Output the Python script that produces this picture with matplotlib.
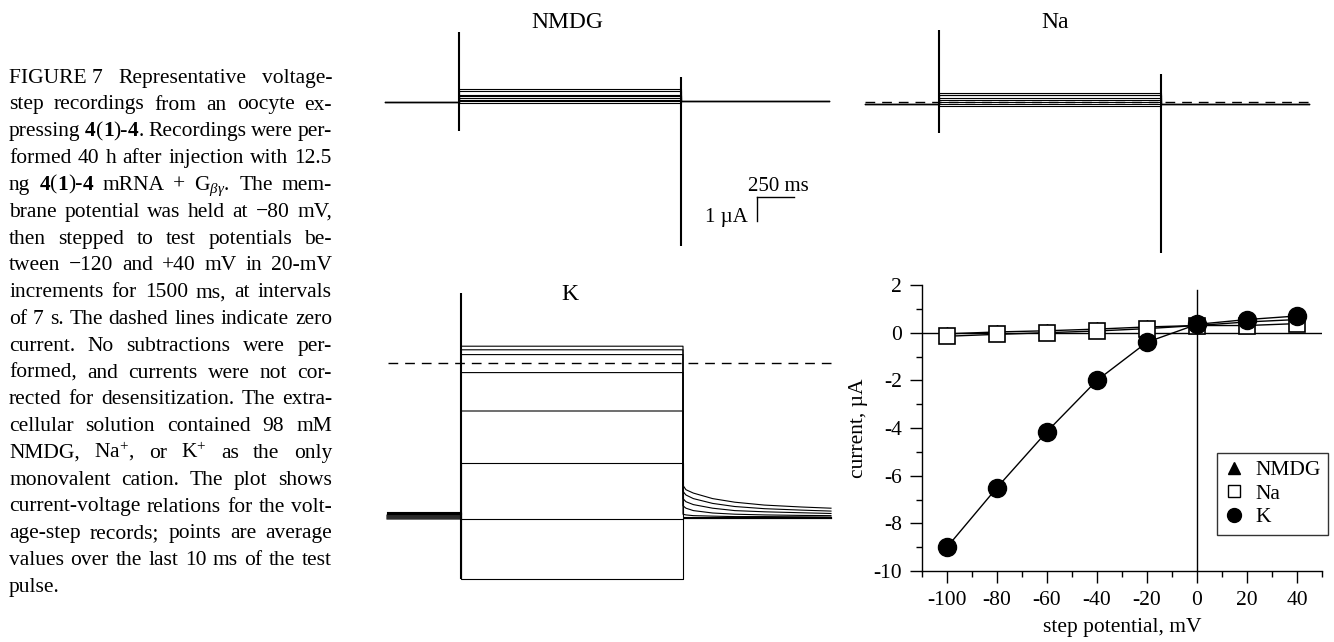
import numpy as np
import matplotlib
matplotlib.use('Agg')
import matplotlib.pyplot as plt
from matplotlib.lines import Line2D

plt.rcParams['font.family'] = ['Liberation Serif', 'DejaVu Serif']
plt.rcParams['mathtext.fontset'] = 'custom'
plt.rcParams['mathtext.rm'] = 'Liberation Serif'
plt.rcParams['mathtext.it'] = 'Liberation Serif:italic'
plt.rcParams['mathtext.bf'] = 'Liberation Serif:bold'
plt.rcParams['axes.unicode_minus'] = False

# step potentials (mV) and end-of-step currents (uA)
step_mv = [-100, -80, -60, -40, -20, 0, 20, 40]
i_nmdg = [-0.05, 0.03, 0.08, 0.15, 0.24, 0.30, 0.45, 0.55]
i_na = [-0.15, -0.07, 0.0, 0.07, 0.17, 0.30, 0.30, 0.38]
i_k = [-9.0, -6.5, -4.15, -2.0, -0.4, 0.35, 0.55, 0.7]

# holding currents at -80 mV (uA)
hold_nmdg = [0.0] * 8
hold_na = [-0.08] * 8
hold_k = [-6.22, -6.26, -6.30, -6.34, -6.38, -6.42, -6.46, -6.50]

# capacitive transients (low, high) in uA
spike_on_nmdg = (-1.2, 2.9)
spike_off_nmdg = (-6.0, 1.05)
spike_on_na = (-1.3, 3.0)
spike_off_na = (-6.3, 1.15)
spike_on_k = (-9.0, 2.9)

# K tail currents after the step (ms, uA)
tail_t = [1500, 1520, 1570, 1700, 1850, 2050, 2300, 2500]
tail_k = [
    [-6.45, -6.45, -6.45, -6.45, -6.45, -6.45, -6.45, -6.45],
    [-6.44, -6.44, -6.44, -6.44, -6.44, -6.44, -6.44, -6.44],
    [-6.42, -6.42, -6.42, -6.42, -6.42, -6.42, -6.42, -6.42],
    [-6.30, -6.33, -6.36, -6.38, -6.40, -6.40, -6.41, -6.42],
    [-5.95, -6.05, -6.15, -6.25, -6.30, -6.33, -6.35, -6.36],
    [-5.65, -5.78, -5.90, -6.05, -6.15, -6.20, -6.24, -6.27],
    [-5.35, -5.50, -5.65, -5.85, -5.98, -6.07, -6.13, -6.17],
    [-5.10, -5.28, -5.42, -5.65, -5.80, -5.92, -6.00, -6.05],
]

T_START, T_PULSE, T_END = -500, 1500, 2500
scale_ms, scale_ua = 250, 1

caption = [
    "FIGURE~7 Representative voltage-",
    "step recordings from an oocyte ex-",
    "pressing **4**(**1**)-**4**. Recordings were per-",
    "formed 40 h after injection with 12.5",
    "ng **4**(**1**)-**4** mRNA + G$_{\\beta\\gamma}$. The mem-",
    "brane potential was held at \u221280 mV,",
    "then stepped to test potentials be-",
    "tween \u2212120 and +40 mV in 20-mV",
    "increments for 1500 ms, at intervals",
    "of 7 s. The dashed lines indicate zero",
    "current. No subtractions were per-",
    "formed, and currents were not cor-",
    "rected for desensitization. The extra-",
    "cellular solution contained 98 mM",
    "NMDG, Na$^{+}$, or K$^{+}$ as the only",
    "monovalent cation. The plot shows",
    "current-voltage relations for the volt-",
    "age-step records; points are average",
    "values over the last 10 ms of the test",
    "pulse.",
]

W, H = 1334, 642
PX_MS = 222 / 1500
PX_UA = 24

fig = plt.figure(figsize=(W / 100, H / 100), dpi=100)


def px_axes(x0, y0, x1, y1):
    return fig.add_axes([x0 / W, 1 - y1 / H, (x1 - x0) / W, (y1 - y0) / H])


def trace_axes(x0, y0, x1, y1, pulse_px, zero_px):
    ax = px_axes(x0, y0, x1, y1)
    ax.set_xlim((x0 - pulse_px) / PX_MS, (x1 - pulse_px) / PX_MS)
    ax.set_ylim((zero_px - y1) / PX_UA, (zero_px - y0) / PX_UA)
    ax.axis('off')
    return ax


def draw_sweeps(ax, hold, steps, tt, tails):
    for h, s, tl in zip(hold, steps, tails):
        t = [T_START, 0, 0, T_PULSE, T_PULSE] + tt[1:]
        y = [h, h, s, s] + tl
        ax.plot(t, y, color='k', lw=0.8)


def ftext(x, y, s, **kw):
    fig.text(x / W, 1 - y / H, s, **kw)


# NMDG traces
ax1 = trace_axes(370, 10, 840, 270, 459, 102)
draw_sweeps(ax1, hold_nmdg, i_nmdg, [T_PULSE, T_END], [[h + 0.04, h + 0.04] for h in hold_nmdg])
ax1.vlines(0, *spike_on_nmdg, color='k', lw=1.5)
ax1.vlines(T_PULSE, *spike_off_nmdg, color='k', lw=1.5)
tc, ic = (757 - 459) / PX_MS, (102 - 197) / PX_UA
ax1.plot([tc, tc + scale_ms], [ic, ic], color='k', lw=1)
ax1.plot([tc, tc], [ic, ic - scale_ua], color='k', lw=1)
ax1.text(tc + scale_ms / 2 + 20, ic + 0.25, '250 ms', ha='center', va='baseline', fontsize=15)
ax1.text(tc - 60, ic - 1.05, '1 \u00b5A', ha='right', va='baseline', fontsize=15)
ftext(567, 23, 'NMDG', ha='center', va='center', fontsize=17)

# Na traces
ax2 = trace_axes(850, 10, 1330, 270, 939, 102)
ax2.plot([T_START, T_END], [0, 0], color='k', lw=1, ls=(0, (7, 5)))
draw_sweeps(ax2, hold_na, i_na, [T_PULSE, T_END], [[h, h] for h in hold_na])
ax2.vlines(0, *spike_on_na, color='k', lw=1.5)
ax2.vlines(T_PULSE, *spike_off_na, color='k', lw=1.5)
ftext(1055, 23, 'Na', ha='center', va='center', fontsize=17)

# K traces
ax3 = trace_axes(370, 280, 840, 600, 461, 363)
ax3.plot([T_START + 10, T_END], [0, 0], color='k', lw=1, ls=(0, (7, 5)))
draw_sweeps(ax3, hold_k, i_k, tail_t, tail_k)
ax3.vlines(0, *spike_on_k, color='k', lw=1.5)
ftext(570, 295, 'K', ha='center', va='center', fontsize=17)

# current-voltage plot
ax = px_axes(922, 285, 1322, 571)
ax.axhline(0, color='k', lw=1, zorder=1)
ax.axvline(0, ymax=(1.8 + 10) / 12, color='k', lw=1, zorder=1)
ax.plot(step_mv, i_nmdg, color='k', lw=1, marker='^', ms=10, zorder=3)
ax.plot(step_mv, i_na, color='k', lw=1, marker='s', ms=12, mfc='w', mec='k', mew=1.2, zorder=4)
ax.plot(step_mv, i_k, color='k', lw=1, marker='o', ms=13, zorder=5)
ax.set_xlim(-110, 50)
ax.set_ylim(-10, 2)
ax.set_xticks(np.arange(-100, 41, 20))
ax.set_xticks(np.arange(-110, 51, 20), minor=True)
ax.set_yticks(np.arange(-10, 3, 2))
ax.set_yticks(np.arange(-9, 2, 2), minor=True)
ax.tick_params(which='major', length=8.5, width=1, labelsize=15.5, pad=6)
ax.tick_params(which='minor', length=4.5, width=1)
for s in ['top', 'right']:
    ax.spines[s].set_visible(False)
for s in ['left', 'bottom']:
    ax.spines[s].set_linewidth(1)
ax.set_ylabel('current, \u00b5A', fontsize=15.5)
ax.yaxis.set_label_coords(-0.135, 0.5)
ax.set_xlabel('step potential, mV', fontsize=15.5)
ax.xaxis.set_label_coords(0.5, -0.165)
handles = [
    Line2D([], [], ls='none', marker='^', ms=9, color='k'),
    Line2D([], [], ls='none', marker='s', ms=9, mfc='w', mec='k', mew=1),
    Line2D([], [], ls='none', marker='o', ms=10, color='k'),
]
leg = ax.legend(handles, ['NMDG', 'Na', 'K'], loc='upper right', bbox_to_anchor=(1.015, 0.413),
                fontsize=15.5, frameon=True, fancybox=False, edgecolor='k', handlelength=0.8,
                handletextpad=0.6, labelspacing=0.15, borderpad=0.35, borderaxespad=0)
leg.get_frame().set_linewidth(1)

# justified caption
CAP_FS = 15.5
x_left, x_right = 9, 332
base0, lead = 82.7, 26.8
r = fig.canvas.get_renderer()


def seg_width(txt, bold):
    t = fig.text(0, 0, txt, fontsize=CAP_FS, fontweight='bold' if bold else 'normal')
    w = t.get_window_extent(renderer=r).width
    t.remove()
    return w


for n, line in enumerate(caption):
    words = []
    for w in line.split(' '):
        parts = w.replace('~', ' ').split('**')
        segs = [(p, k % 2 == 1) for k, p in enumerate(parts) if p]
        words.append([(p, b, seg_width(p, b)) for p, b in segs])
    widths = [sum(s[2] for s in w) for w in words]
    if n < len(caption) - 1 and len(words) > 1:
        gap = (x_right - x_left - sum(widths)) / (len(words) - 1)
    else:
        gap = seg_width('a b', False) - seg_width('ab', False)
    x = x_left
    yb = base0 + n * lead
    for w, ww in zip(words, widths):
        xs = x
        for p, b, sw in w:
            ftext(xs, yb, p, fontsize=CAP_FS, fontweight='bold' if b else 'normal',
                  ha='left', va='baseline')
            xs += sw
        x += ww + gap

fig.savefig('out.png', dpi=100)
